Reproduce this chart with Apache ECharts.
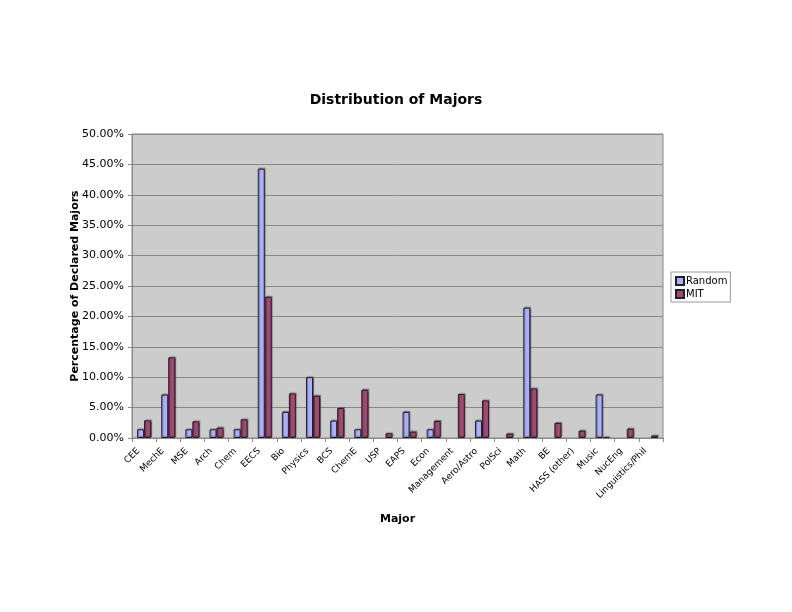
<!DOCTYPE html>
<html><head><meta charset="utf-8">
<script src="https://cdn.jsdelivr.net/npm/echarts@6/dist/echarts.min.js"></script>
<style>html,body{margin:0;padding:0;background:#fff}#c{width:792px;height:612px}</style>
</head><body><div id="c"></div>
<script>
var categories = ["CEE","MechE","MSE","Arch","Chem","EECS","Bio","Physics","BCS","ChemE","USP","EAPS","Econ","Management","Aero/Astro","PolSci","Math","BE","HASS (other)","Music","NucEng","Linguistics/Phil"];
var randomVals = [1.43,7.14,1.43,1.43,1.43,44.29,4.29,10.00,2.86,1.43,null,4.29,1.43,null,2.86,null,21.43,null,null,7.14,null,null];
var mitVals = [2.90,13.26,2.74,1.70,3.07,23.20,7.34,6.95,4.93,7.94,0.77,1.04,2.80,7.23,6.19,0.71,8.16,2.47,1.20,0.15,1.53,0.38];
var yTicks = [0,5,10,15,20,25,30,35,40,45,50];

var font = 'DejaVu Sans, Verdana, sans-serif';
var chart = echarts.init(document.getElementById('c'), null, {renderer:'canvas'});
chart.setOption({
  animation:false,
  backgroundColor:'#ffffff',
  title:{text:'Distribution of Majors', left:'center', top:88, textStyle:{fontFamily:font, fontSize:14, fontWeight:'bold', color:'#000'}},
  legend:{
    orient:'vertical', left:671, top:272, padding:[4,3,3,4],
    backgroundColor:'#ffffff', borderColor:'#999', borderWidth:1,
    itemWidth:8, itemHeight:8, itemGap:3, icon:'rect',
    textStyle:{fontFamily:font, fontSize:10, color:'#000', padding:[0,0,0,-3]},
    data:['Random','MIT']
  },
  grid:{left:132, right:129, top:134, bottom:174, show:true, backgroundColor:'#cccccc', borderColor:'#888', borderWidth:1},
  xAxis:{
    type:'category', data:categories,
    name:'Major', nameLocation:'middle', nameGap:76, nameMoveOverlap:false,
    nameTextStyle:{fontFamily:font, fontSize:11, fontWeight:'bold', color:'#000'},
    axisLine:{lineStyle:{color:'#888'}},
    axisTick:{show:true, alignWithLabel:false, length:4, lineStyle:{color:'#888'}},
    axisLabel:{interval:0, rotate:45, fontFamily:font, fontSize:9, color:'#000', margin:6, padding:[0,8,0,0]}
  },
  yAxis:{
    type:'value', min:0, max:50, interval:5,
    name:'Percentage of Declared Majors', nameLocation:'middle', nameGap:51, nameMoveOverlap:false,
    nameTextStyle:{fontFamily:font, fontSize:11, fontWeight:'bold', color:'#000'},
    axisLine:{show:true, lineStyle:{color:'#888'}},
    axisTick:{show:true, length:4, lineStyle:{color:'#888'}},
    splitLine:{lineStyle:{color:'#888', width:1}},
    axisLabel:{fontFamily:font, fontSize:11, color:'#000', formatter:function(v){return v.toFixed(2)+'%';}}
  },
  series:[
    {name:'Random', type:'bar', data:randomVals, barWidth:7, barGap:'0%',
     itemStyle:{color:'#aab0ff', borderColor:'#222', borderWidth:1, shadowColor:'rgba(0,0,0,0.35)', shadowOffsetX:1, shadowOffsetY:-1, shadowBlur:1}},
    {name:'MIT', type:'bar', data:mitVals, barWidth:7,
     itemStyle:{color:'#a64675', borderColor:'#222', borderWidth:1, shadowColor:'rgba(0,0,0,0.35)', shadowOffsetX:1, shadowOffsetY:-1, shadowBlur:1}}
  ]
});
</script></body></html>
